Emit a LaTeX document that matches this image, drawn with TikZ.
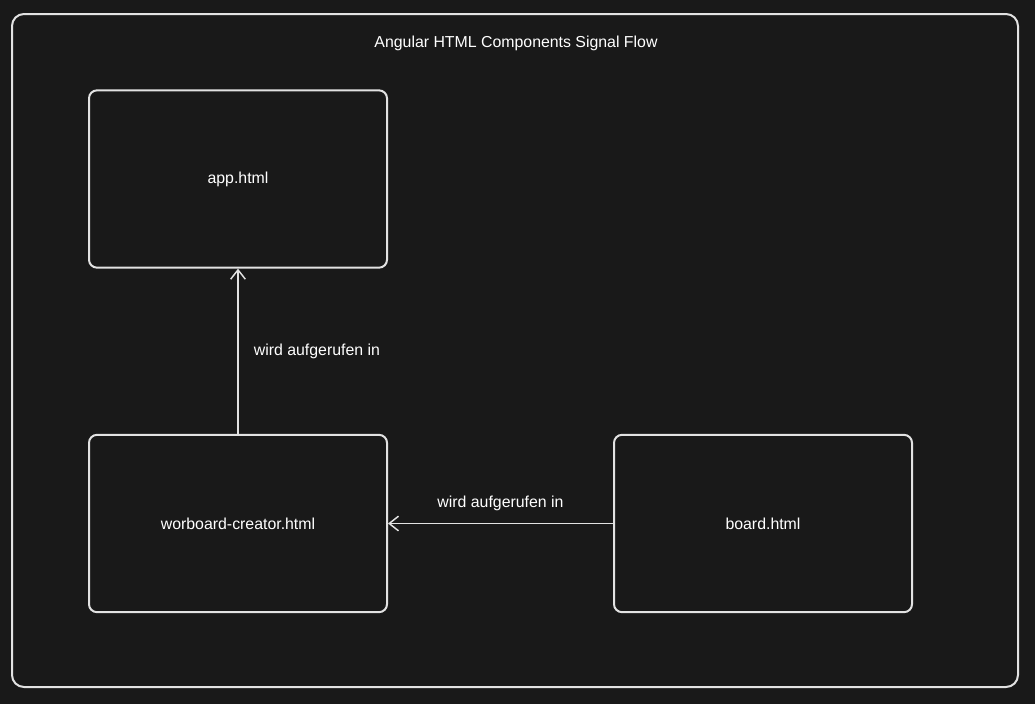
\documentclass[tikz,border=0pt]{standalone}
\usepackage{fontspec}
\setmainfont{Liberation Sans}
\usetikzlibrary{positioning, arrows.meta}
\definecolor{canvasgray}{HTML}{191919}
\definecolor{strokegray}{HTML}{E2E2E2}
\tikzset{
    compbox/.style={draw=strokegray, line width=1.5pt, rounded corners=6pt,
        minimum width=223.5pt, minimum height=133pt, text=white, font=\fontsize{11.9}{13}\selectfont},
    callarrow/.style={draw=strokegray, line width=1.1pt, -{Straight Barb[length=7pt,width=11pt]}},
    calllabel/.style={text=white, font=\fontsize{11.9}{13}\selectfont}
}

\begin{document}
\begin{tikzpicture}[x=0.75pt, y=-0.75pt]
    \fill[canvasgray] (0,0) rectangle (1035,704);
    \draw[strokegray, line width=1.5pt, rounded corners=9pt] (12,14) rectangle (1018,687);
    \node[text=white, font=\fontsize{11.9}{13}\selectfont] (title) at (516,43.5) {Angular HTML Components Signal Flow};

    \node[compbox] (app) at (238,179) {app.html};
    \node[compbox] (creator) at (238,523.5) {worboard-creator.html};
    \node[compbox] (board) at (763,523.5) {board.html};

    % connectors
    \draw[callarrow] (creator) -- (app) node[calllabel, midway, right=8pt] {wird aufgerufen in};
    \draw[callarrow] (board) -- (creator) node[calllabel, midway, above=6pt] {wird aufgerufen in};
\end{tikzpicture}
\end{document}
